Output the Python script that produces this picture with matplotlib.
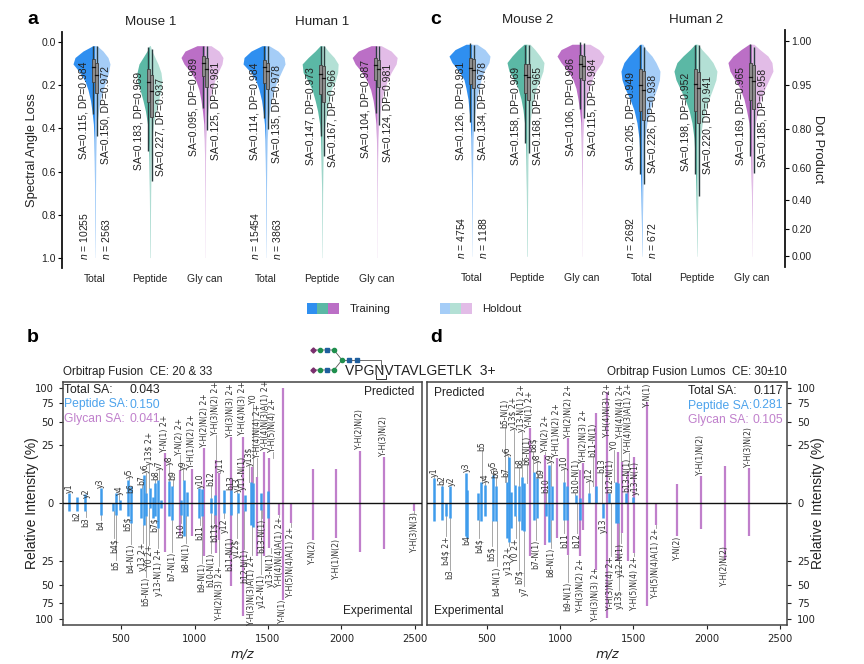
import numpy as np
import matplotlib
matplotlib.use("Agg")
import matplotlib.pyplot as plt
from matplotlib.patches import Rectangle
from matplotlib.transforms import Bbox

W, H = 864, 664
plt.rcParams['font.family'] = ['Liberation Sans', 'DejaVu Sans']
plt.rcParams['mathtext.fontset'] = 'custom'
plt.rcParams['mathtext.it'] = 'Liberation Sans:italic'
plt.rcParams['mathtext.rm'] = 'Liberation Sans'

# ---------------------- violin data ----------------------
categories = ['Total', 'Peptide', 'Gly can']
sa_levels = [.015, .04, .07, .10, .14, .18, .22, .27, .32, .38, .45, .55, .70, .85, 1.0]
# density profile at sa_levels
m1_total_tr = [2, 12, 20, 22, 15, 10, 7, 4.5, 3, 1.6, 1, .7, .4, .25, .05]
m1_total_ho = [2, 8, 13, 15, 13.5, 11, 8, 5, 3.5, 2, 1.2, .8, .5, .25, .05]
m1_pep_tr = [.5, 3, 7, 11, 13, 12.5, 10, 7, 4.5, 2.5, 1.5, 1, .6, .4, .2]
m1_pep_ho = [.3, 2, 5, 8, 11, 12, 11, 8.5, 6, 3.5, 2, 1.2, .7, .4, .1]
m1_gly_tr = [8, 20, 24, 21, 14, 9, 6, 4, 2.5, 1.2, .7, .4, .2, .1, .05]
m1_gly_ho = [6, 14, 18, 17, 13, 9.5, 7, 4.5, 3, 1.6, .9, .5, .25, .1, .05]
h1_total_tr = [4, 15, 22, 23, 15, 10, 7, 4.5, 3, 1.6, 1, .7, .4, .25, .05]
h1_total_ho = [3, 12, 18, 19, 15, 11, 8, 5, 3.5, 2, 1.2, .8, .4, .2, .05]
h1_pep_tr = [2, 7, 14, 20, 19, 14, 10, 7, 4.5, 2.5, 1.5, 1, .5, .3, .1]
h1_pep_ho = [2, 6, 12, 16, 15.5, 13, 9, 7, 5, 3, 1.7, 1, .5, .3, .1]
h1_gly_tr = [6, 19, 25, 22, 15, 10, 6.5, 4, 2.5, 1.2, .7, .4, .2, .1, .05]
h1_gly_ho = [4, 14, 20, 19, 14, 10, 7, 4.5, 3, 1.6, .9, .5, .25, .1, .05]
m2_total_tr = [6, 17, 23, 20, 13, 8, 6, 4, 3, 1.6, 1, .7, .4, .2, .05]
m2_total_ho = [5, 13, 18, 17, 12, 9, 7, 4.5, 3.2, 2, 1.2, .7, .4, .2, .05]
m2_pep_tr = [3, 9, 15, 20, 18, 13, 9, 6, 4, 2.5, 1.5, 1, .6, .4, .2]
m2_pep_ho = [3, 8, 13, 17, 16, 13, 9, 6.5, 4.5, 3, 1.7, 1, .7, .4, .2]
m2_gly_tr = [10, 21, 25, 21, 14, 9, 6, 4, 2.5, 1.2, .8, .5, .2, .1, .05]
m2_gly_ho = [8, 17, 22, 20, 14, 10, 7, 4.5, 3, 1.6, .9, .5, .2, .1, .05]
h2_total_tr = [2, 7, 13, 18, 21, 20, 17, 12, 8, 5, 3, 1.8, 1, .5, .1]
h2_total_ho = [1, 4, 10, 14, 18, 17.5, 15, 11, 8, 5, 3, 1.8, 1, .4, .05]
h2_pep_tr = [2, 7, 14, 20, 23, 21, 17, 12, 8, 5, 3, 1.8, 1, .5, .1]
h2_pep_ho = [1, 5, 11, 16, 20, 19, 16, 12, 8.5, 5.5, 3.2, 1.8, 1, .5, .1]
h2_gly_tr = [3, 11, 19, 24, 22, 17, 12, 8, 5.5, 3, 1.8, 1.1, .5, .15, .05]
h2_gly_ho = [2, 8, 16, 20, 21, 17, 13, 9, 6, 3.5, 2, 1.2, .6, .15, .05]

# box statistics, order: train/holdout of Total, Peptide, Glycan x 2
a_tops = [.015, .015, .023, .03, .015, .015, .015, .015, .015, .015, .015, .015]
a_lows = [.332, .437, .506, .645, .306, .406, .352, .403, .437, .527, .329, .383]
a_q1 = [.079, .097, .124, .151, .062, .074, .082, .097, .105, .110, .070, .082]
a_med = [.115, .150, .183, .227, .095, .125, .114, .135, .147, .167, .104, .124]
a_q3 = [.182, .233, .275, .347, .156, .208, .190, .218, .239, .279, .175, .205]
a_dp = [.984, .972, .969, .937, .989, .981, .984, .978, .973, .966, .987, .981]
a_label_y = [.542, .563, .591, .619, .529, .548, .545, .56, .571, .58, .537, .556]

c_tops = [.01, .017, .017, .02, .005, .01, .017, .028, .017, .017, .015, .028]
c_lows = [.376, .418, .474, .519, .314, .356, .616, .662, .616, .72, .534, .613]
c_q1 = [.077, .082, .105, .108, .063, .071, .131, .139, .131, .144, .102, .110]
c_med = [.126, .134, .158, .168, .106, .115, .205, .226, .198, .220, .169, .185]
c_q3 = [.198, .217, .241, .275, .170, .182, .326, .368, .325, .379, .275, .314]
c_dp = [.981, .978, .969, .965, .986, .984, .949, .938, .952, .941, .965, .958]
c_label_y = [.551, .554, .577, .577, .534, .534, .60, .613, .603, .616, .577, .585]

a_counts = ['10255', '2563', '15454', '3863']
c_counts = ['4754', '1188', '2692', '672']
dp_ticks = [1.00, 0.95, 0.80, 0.60, 0.40, 0.20, 0.00]
sa_ticks = [0.0, 0.2, 0.4, 0.6, 0.8, 1.0]

train_colors = ['#2f8ff0', '#5bb8a5', '#bb6fc6']
hold_colors = ['#a5cdf7', '#b3e0d5', '#e2bce7']

# ---------------------- spectrum data panel b ----------------------
b_blue_mz = [148, 198, 257, 364, 448, 466, 493, 548, 566, 636, 656, 670, 697, 720, 733, 754, 770, 826, 845, 906, 931, 947, 1031, 1049, 1110, 1140, 1200, 1246, 1293, 1343, 1384, 1400, 1452, 1502]
b_blue_up = [.75, .27, .65, 1.7, 0, .75, .08, 4.1, 2.1, 1.7, 6, .75, 1.7, .33, 3, 4.1, .08, 3.8, 2.1, .08, 4.1, 1, 1.7, 1.5, .19, .5, 1.3, 1.3, .75, .5, 3.5, 3, .75, 1.2]
b_blue_dn = [.4, .4, .4, 1, .5, 1, .33, 1.3, 3, 1.7, 3.5, 1.3, .19, 1.7, 1.3, 4.7, .19, 1.3, 2.1, 1, 8.3, 1.3, 1.7, 1.3, .75, 1, .75, 1, .75, .5, 3.5, 4.1, .33, 1.7]
b_pur_mz = [800, 901, 981, 1065, 1146, 1167, 1246, 1328, 1394, 1428, 1473, 1509, 1600, 1577, 1654, 1804, 1965, 2126, 2289, 2495]
b_pur_up = [19, 8.3, 8.6, 22.6, 14, 6.7, 33, 33, 10, 5.3, 20, 15, 100, 0, 0, 8.6, 9, 20.8, 16.3, 0]
b_pur_dn = [17.5, 8.3, 8, 21, 18.7, 10, 51, 96, 0, 21, 21, 15, 70, 1, 3, 10, 9.2, 18, 15.8, .5]

b_up_names = ['y1', 'y2', 'y3', 'y4', 'y5', 'b6', 'b7', 'y6', 'y13$ 2+', 'b8', 'y7', 'Y-N(1) 2+', 'y8', 'b9', 'Y-N(2) 2+', 'y9', 'Y-H(1)N(2) 2+', 'y10', 'Y-H(2)N(2) 2+', 'b12', 'Y-H(3)N(2) 2+', 'y11', 'b13', 'Y-H(3)N(3) 2+', 'y13', 'y11-N(1)', 'Y-H(4)N(3) 2+', 'y13$', 'Y0', 'Y-H(4)N(4) 2+', 'Y-H(4)N(3)A(1) 2+', 'Y-H(5)N(4) 2+', 'Y-H(2)N(2)', 'Y-H(3)N(2)']
b_up_mz = [146, 262, 362, 489, 557, 568, 641, 668, 691, 734, 759, 799, 829, 852, 901, 924, 981, 1037, 1065, 1112, 1146, 1174, 1246, 1246, 1292, 1328, 1328, 1373, 1400, 1428, 1480, 1532, 2126, 2285]
b_up_pos = [.75, .19, 1.7, .5, 4.7, .75, 2.5, 6.7, 11, 4.1, 8.3, 20, 11, 4.1, 17.5, 8.3, 9.2, 1.7, 23.5, 2.1, 35, 7.5, 1.33, 33, 1, 1.33, 35, 10.4, 74, 15, 21.3, 20, 21.8, 16.8]

b_dn_names = ['b2', 'b3', 'b4', 'b4$', 'b5', 'b5$', 'b4-N(1)', 'y13 2+', 'b5-N(1)', 'Y0 2+', 'b7$', 'y13-N(1) 2+', 'b7-N(1)', 'b10', 'b8-N(1)', 'b11', 'b9-N(1)', 'b10-N(1)', 'b11$', 'Y-H(2)N(3) 2+', 'y12', 'b11-N(1)', 'y12$', 'b12-N(1)', 'Y-H(3)N(3)A(1) 2+', 'y12-N(1)', 'b13-N(1)', 'y13-N(1)', 'Y-H(4)N(4)A(1) 2+', 'Y-N(1)', 'Y-H(5)N(4)A(1) 2+', 'Y-N(2)', 'Y-H(1)N(2)', 'Y-H(3)N(3)']
b_dn_mz = [198, 260, 364, 452, 466, 545, 568, 647, 668, 691, 725, 754, 845, 908, 940, 1037, 1049, 1110, 1133, 1167, 1203, 1242, 1287, 1339, 1389, 1453, 1457, 1518, 1577, 1600, 1654, 1804, 1965, 2496]
b_dn_pos = [.5, 1.47, 2.1, 9.2, 24.6, 1.33, 12.4, 11.6, 41, 13, 1.47, 15, 18, 3, 12, 3.5, 27, 18.7, 2.8, 30, 1.7, 8.3, 9.2, 15.8, 20, 38, 1.7, 18.7, 1.33, 70, 4.1, 10.4, 9.5, .65]

# ---------------------- spectrum data panel d ----------------------
d_blue_mz = [144, 194, 220, 253, 359, 366, 443, 461, 488, 543, 562, 636, 652, 668, 691, 723, 738, 757, 822, 840, 902, 927, 943, 1027, 1045, 1106, 1135, 1197, 1243, 1294, 1335, 1381, 1397, 1449, 1499]
d_blue_up = [4.7, 2.2, 0, 2.1, 7, 1.3, .75, 3.5, 2.5, 6, 2.1, 3.5, 16.3, 1, 2.5, 2.1, 5.3, 3, 7.5, 4.7, 0, 11, 2.1, 3.5, 2.1, .5, .19, .75, 2.1, 0, .75, 3.5, 3, .75, .27]
d_blue_dn = [2.5, 2.2, 1.3, 1.7, 8.3, 9.2, 2.1, 2.5, 1.3, 2.5, 2.5, 9.2, 11, 4.7, 1.3, 2.5, 5.3, 6, 2.1, 1.7, 1.3, 11, 2.1, 2.1, 2.1, 0, 2.1, 0, 0, 1.7, 0, 3, 3, 0, 0]
d_pur_mz = [795, 898, 977, 1057, 1136, 1159, 1243, 1323, 1393, 1420, 1466, 1505, 1595, 1652, 1800, 1961, 2123, 2286]
d_pur_up = [42, 17.5, 15, 31.6, 8.3, 12, 61.5, 93, 20, 13, 8, 16, 77, 0, 2.7, 5.7, 10.4, 9.5]
d_pur_dn = [21, 13, 9, 20, 21, 5.3, 33, 99, 25, 6.7, 25, 18.7, 80, 3.5, 8.3, 5, 24, 8.3]

d_up_names = ['y1', 'b2', 'y2', 'y3', 'b5', 'y4', 'y5', 'b6', 'b5-N(1)', 'b7', 'y6', 'y13$ 2+', 'b8', 'y13-N(1) 2+', 'b6-N(1)', 'Y-N(1) 2+', 'b8$', 'y8', 'b9', 'Y-N(2) 2+', 'b10', 'y9', 'Y-H(1)N(2) 2+', 'y10', 'Y-H(2)N(2) 2+', 'b10-N(1)', 'Y-H(2)N(3) 2+', 'y12', 'b11-N(1)', 'b13', 'Y-H(4)N(3) 2+', 'b12-N(1)', 'Y0', 'Y-H(4)N(4) 2+', 'b13-N(1)', 'Y-H(4)N(3)A(1) 2+', 'y13-N(1)', 'Y-N(1)', 'Y-H(1)N(2)', 'Y-H(3)N(2)']
d_up_mz = [141, 193, 257, 359, 466, 489, 545, 564, 625, 632, 643, 686, 723, 739, 773, 791, 818, 845, 868, 898, 905, 936, 977, 1030, 1059, 1105, 1159, 1200, 1223, 1284, 1323, 1336, 1370, 1414, 1455, 1470, 1516, 1595, 1961, 2284]
d_up_pos = [5.3, 2.5, 2.2, 7.5, 20.5, 3.2, 8.3, 4.7, 42, 5.3, 16.8, 40, 9.2, 38.4, 11, 42, 20, 12, 4.7, 20, .75, 12, 16.3, 8.3, 31.6, .75, 12, 3.5, 16.3, 6.7, 33, .75, 21.3, 31.6, 1, 18.7, .5, 70, 6, 10]

d_dn_names = ['b4$ 2+', 'b3', 'b4', 'b4$', 'b5$', 'b4-N(1)', 'y13 2+', 'Y0 2+', 'b7$', 'y7', 'b7-N(1)', 'b8-N(1)', 'b11', 'b9-N(1)', 'b12', 'Y-H(3)N(2) 2+', 'Y-H(3)N(3) 2+', 'y13', 'Y-H(3)N(4) 2+', 'y13$', 'y12-N(1)', 'Y-H(5)N(4) 2+', 'Y-H(5)N(4)A(1) 2+', 'Y-N(2)', 'Y-H(2)N(2)']
d_dn_mz = [223, 250, 364, 450, 534, 568, 652, 698, 720, 757, 836, 936, 1030, 1052, 1114, 1141, 1239, 1295, 1345, 1405, 1414, 1505, 1652, 1800, 2123]
d_dn_pos = [8.3, 33, 7.5, 9.2, 14, 30, 14, 9.2, 33, 52, 10, 15, 6.7, 46, 6.7, 22.6, 30.6, 1.7, 21.3, 56, 12, 21.3, 4.7, 8.3, 14]

intensity_ticks = [-100, -75, -50, -25, 0, 25, 50, 75, 100]
mz_ticks = [500, 1000, 1500, 2000, 2500]

BLUE = '#3f9cec'
PURPLE = '#c07fcb'
TXT = '#222222'


def make_ax(fig, l, t, r, b):
    return fig.add_axes([l / W, 1 - b / H, (r - l) / W, (b - t) / H])


fig = plt.figure(figsize=(W / 100, H / 100), dpi=100)


# ---------------------- violins ----------------------
def violins(ax, centers, profiles, tops, lows, q1, med, q3, dp, lab_y, label_left_x, label_right_x):
    px = 1 / 55.0
    lv = np.array(sa_levels)
    for i in range(12):
        c = centers[i // 2]
        hold = i % 2
        col = (hold_colors if hold else train_colors)[(i // 2) % 3]
        w = np.array(profiles[i]) * px
        if hold:
            ax.fill_betweenx(lv, c, c + w, color=col, lw=0, zorder=1)
        else:
            ax.fill_betweenx(lv, c - w, c, color=col, lw=0, zorder=1)
        bx = c + (1.6 if hold else -1.6) * px
        ax.plot([bx, bx], [tops[i], lows[i]], color='#2a3d40', lw=1.0, zorder=3, solid_capstyle='butt')
        ax.add_patch(Rectangle((bx - 1.6 * px, q1[i]), 3.2 * px, q3[i] - q1[i], fc='#8c8c8c', ec='#404040', lw=.6, zorder=4))
        ax.plot([bx - 1.6 * px, bx + 1.6 * px], [med[i], med[i]], color='#111', lw=.9, zorder=5)
        tx = c + (label_right_x if hold else label_left_x) * px
        ax.text(tx, lab_y[i], f'SA={med[i]:.3f}, DP={dp[i]:.3f}', rotation=90, ha='center', va='bottom',
                fontsize=7.5, color=TXT, zorder=6)
    ax.set_ylim(1.0486, -0.0486)
    ax.set_xticks(centers)
    ax.set_xticklabels(categories * 2, fontsize=7.5, color=TXT)
    ax.tick_params(axis='x', length=0, pad=4.2)
    ax.patch.set_alpha(0)
    for s in ['top', 'bottom', 'left', 'right']:
        ax.spines[s].set_visible(False)


def counts(ax, centers, texts, left, right):
    px = 1 / 55.0
    clip = Bbox([[0, H - 259.5], [W, H]])
    for k, idx in enumerate([0, 0, 3, 3]):
        off = left if k % 2 == 0 else right
        t = ax.text(centers[idx] + off * px, 1.012, rf'$\mathit{{n}}$ = {texts[k]}', rotation=90,
                    ha='center', va='bottom', fontsize=7.5, color=TXT, zorder=6)
        t.set_clip_box(clip)
        t.set_clip_on(True)


a_centers = [0, 1, 2, 3.11, 4.13, 5.13]
ax_a = make_ax(fig, 62, 32, 402, 268)
ax_a.set_xlim(-0.6, -0.6 + 340 / 55)
violins(ax_a, a_centers,
        [m1_total_tr, m1_total_ho, m1_pep_tr, m1_pep_ho, m1_gly_tr, m1_gly_ho,
         h1_total_tr, h1_total_ho, h1_pep_tr, h1_pep_ho, h1_gly_tr, h1_gly_ho],
        a_tops, a_lows, a_q1, a_med, a_q3, a_dp, a_label_y, -11.5, 10.5)
counts(ax_a, a_centers, a_counts, -11.5, 10.5)
ax_a.spines['left'].set_visible(True)
ax_a.spines['left'].set_linewidth(1.3)
ax_a.spines['left'].set_color('#111')
ax_a.set_yticks(sa_ticks)
ax_a.set_yticklabels([f'{v:.1f}' for v in sa_ticks], fontsize=7.5, color=TXT)
ax_a.tick_params(axis='y', length=3, width=.8, pad=1.5)

c_centers = [0, 1, 2, 3.09, 4.09, 5.09]
ax_c = make_ax(fig, 440, 30.5, 785, 267)
ax_c.set_xlim((440 - 472) / 55, (785 - 472) / 55)
violins(ax_c, c_centers,
        [m2_total_tr, m2_total_ho, m2_pep_tr, m2_pep_ho, m2_gly_tr, m2_gly_ho,
         h2_total_tr, h2_total_ho, h2_pep_tr, h2_pep_ho, h2_gly_tr, h2_gly_ho],
        c_tops, c_lows, c_q1, c_med, c_q3, c_dp, c_label_y, -11.5, 10.5)
counts(ax_c, c_centers, c_counts, -11.5, 10.5)
ax_c.set_ylim(1.0499, -0.0488)
ax_c.spines['right'].set_visible(True)
ax_c.spines['right'].set_linewidth(1.3)
ax_c.spines['right'].set_color('#111')
ax_c.yaxis.tick_right()
ax_c.set_yticks([2 / np.pi * np.arccos(v) for v in dp_ticks])
ax_c.set_yticklabels([f'{v:.2f}' for v in dp_ticks], fontsize=7.5, color=TXT)
ax_c.tick_params(axis='y', length=3, width=.8, pad=1.5)


# ---------------------- spectra ----------------------
def spectrum(ax, blue_mz, blue_up, blue_dn, pur_mz, pur_up, pur_dn,
             up_names, up_mz, up_pos, dn_names, dn_mz, dn_pos, xlim):
    ax.set_yscale('function', functions=(lambda v: np.sign(v) * np.sqrt(np.abs(v)),
                                         lambda v: np.sign(v) * np.square(v)))
    ax.vlines(pur_mz, 0, pur_up, color=PURPLE, lw=1.6, zorder=2)
    ax.vlines(pur_mz, 0, -np.array(pur_dn), color=PURPLE, lw=1.6, zorder=2)
    ax.vlines(blue_mz, 0, blue_up, color=BLUE, lw=1.8, zorder=3)
    ax.vlines(blue_mz, 0, -np.array(blue_dn), color=BLUE, lw=1.8, zorder=3)
    ax.axhline(0, color='#111', lw=1.0, zorder=4)
    all_mz = np.array(list(blue_mz) + list(pur_mz))
    all_up = np.array(list(blue_up) + list(pur_up))
    all_dn = np.array(list(blue_dn) + list(pur_dn))
    for name, x, y in zip(up_names, up_mz, up_pos):
        ax.text(x, y, name, rotation=90, ha='center', va='bottom', fontsize=5.6, family='DejaVu Sans',
                color='#333', zorder=6)
        h = all_up[np.argmin(np.abs(all_mz - x))]
        if y > h * 1.1:
            ax.plot([x, x], [h, y], color='#999', lw=.6, zorder=1)
    for name, x, y in zip(dn_names, dn_mz, dn_pos):
        ax.text(x, -y, name, rotation=90, ha='center', va='top', fontsize=5.6, family='DejaVu Sans',
                color='#333', zorder=6)
        h = all_dn[np.argmin(np.abs(all_mz - x))]
        if y > h * 1.1:
            ax.plot([x, x], [-h, -y], color='#999', lw=.6, zorder=1)
    ax.set_xlim(*xlim)
    ax.set_ylim(-110.7, 110.7)
    ax.set_xticks(mz_ticks)
    ax.set_yticks(intensity_ticks)
    ax.set_yticklabels([str(abs(v)) for v in intensity_ticks])
    ax.minorticks_off()
    ax.tick_params(labelsize=7.2, length=3, width=.8, colors='#222', labelfontfamily='DejaVu Sans')
    for s in ax.spines.values():
        s.set_color('#444')
        s.set_linewidth(1.1)


ax_b = make_ax(fig, 62.7, 381.7, 422.3, 624.7)
spectrum(ax_b, b_blue_mz, b_blue_up, b_blue_dn, b_pur_mz, b_pur_up, b_pur_dn,
         b_up_names, b_up_mz, b_up_pos, b_dn_names, b_dn_mz, b_dn_pos, (103, 2550))
ax_d = make_ax(fig, 427.3, 381.7, 787.3, 624.7)
spectrum(ax_d, d_blue_mz, d_blue_up, d_blue_dn, d_pur_mz, d_pur_up, d_pur_dn,
         d_up_names, d_up_mz, d_up_pos, d_dn_names, d_dn_mz, d_dn_pos, (95, 2550))
ax_d.yaxis.tick_right()
ax_d.tick_params(axis='y', pad=4)

# ---------------------- overlay in pixel space ----------------------
ov = fig.add_axes([0, 0, 1, 1], zorder=10)
ov.set_xlim(0, W)
ov.set_ylim(H, 0)
ov.axis('off')


def T(x, y, s, **kw):
    kw.setdefault('va', 'center')
    kw.setdefault('color', TXT)
    ov.text(x, y, s, **kw)


for x, y, s in [(27, 19, 'a'), (430, 19, 'c'), (27, 338, 'b'), (430, 338, 'd')]:
    T(x, y, s, fontsize=14, fontweight='bold', color='black', ha='left')
for x, y, s in [(151, 22, 'Mouse 1'), (322, 22, 'Human 1'), (528, 20, 'Mouse 2'), (696, 20, 'Human 2')]:
    T(x, y, s, fontsize=9.6, ha='center')
T(32, 150, 'Spectral Angle Loss', fontsize=9.3, rotation=90, ha='center')
T(818, 149, 'Dot Product', fontsize=9.3, rotation=270, ha='center')
T(32, 503, 'Relative Intensity (%)', fontsize=10, rotation=90, ha='center')
T(818, 503, 'Relative Intensity (%)', fontsize=10, rotation=90, ha='center')
T(242, 654, 'm/z', fontsize=9.3, style='italic', ha='center', family='DejaVu Sans')
T(607, 654, 'm/z', fontsize=9.3, style='italic', ha='center', family='DejaVu Sans')

# legend
for i in range(3):
    ov.add_patch(Rectangle((306.7 + i * 10.6, 303), 10.6, 10.7, fc=train_colors[i], ec='none'))
    ov.add_patch(Rectangle((439.5 + i * 10.9, 303), 10.9, 10.7, fc=hold_colors[i], ec='none'))
T(350, 309, 'Training', fontsize=8.2, ha='left')
T(482, 309, 'Holdout', fontsize=8.2, ha='left')

# titles of spectra
T(63, 371.5, 'Orbitrap Fusion  CE: 20 & 33', fontsize=8.4, ha='left')
T(786.7, 371.5, 'Orbitrap Fusion Lumos  CE: 30±10', fontsize=8.4, ha='right')
T(345, 371, 'VPGNVTAVLGETLK  3+', fontsize=10, ha='left')

# SA boxes
for y, lab, val, col in [(390, 'Total SA:', '0.043', '#222222'), (404.5, 'Peptide SA:', '0.150', '#4da3ec'), (419, 'Glycan SA:', '0.041', '#c080cc')]:
    T(64, y, lab, fontsize=8.7, ha='left', color=col)
    T(160, y, val, fontsize=8.7, ha='right', color=col)
for y, lab, val, col in [(391, 'Total SA:', '0.117', '#222222'), (405.5, 'Peptide SA:', '0.281', '#4da3ec'), (420, 'Glycan SA:', '0.105', '#c080cc')]:
    T(688, y, lab, fontsize=8.7, ha='left', color=col)
    T(783, y, val, fontsize=8.7, ha='right', color=col)
T(414, 392, 'Predicted', fontsize=8.6, ha='right')
T(413, 611, 'Experimental', fontsize=8.6, ha='right')
T(434, 393, 'Predicted', fontsize=8.6, ha='left')
T(434, 611, 'Experimental', fontsize=8.6, ha='left')

# glycan cartoon
GREEN = '#1f8f4d'
NAVY = '#1f5f9e'
MAUVE = '#7a2f6e'
ov.plot([313, 334, 342, 334, 313], [350, 350, 360, 370, 370], color='#555', lw=.6, zorder=1)
ov.plot([342, 381, 381], [360, 360, 369], color='#555', lw=.6, zorder=1)
for y in (350, 370):
    ov.plot([313], [y], marker='D', ms=2.6, color=MAUVE, ls='')
    ov.plot([320, 334], [y, y], marker='o', ms=3, color=GREEN, ls='')
    ov.plot([327], [y], marker='s', ms=3, color=NAVY, ls='')
ov.plot([342], [360], marker='o', ms=3, color=GREEN, ls='')
ov.plot([349, 357], [360, 360], marker='s', ms=3, color=NAVY, ls='')
ov.plot([376, 376, 386, 386], [375, 379, 379, 375], color='#333', lw=.7)

fig.savefig('out.png', dpi=100)
